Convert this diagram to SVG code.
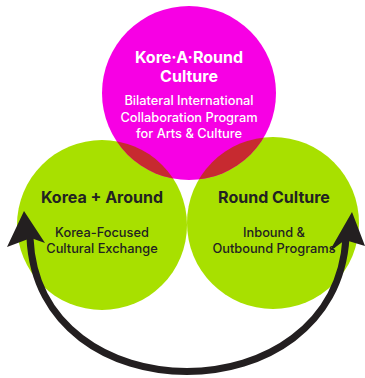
<svg xmlns="http://www.w3.org/2000/svg" width="365" height="378" viewBox="0 0 365 378">
<defs>
<style>
.green{fill:#a8e000}
.mag{fill:#f700e4}
.ov{fill:#c72a30}
.t{font-family:Inter,"Noto Sans",sans-serif;text-anchor:middle}
.h{font-weight:700;font-size:16px}
.s{font-weight:500;font-size:12.8px}
.w{fill:#ffffff}
.d{fill:#222222}
.arc{fill:none;stroke:#231f20;stroke-width:7}
.head{fill:#231f20}
</style>
<clipPath id="cm"><circle cx="189" cy="93" r="87"/></clipPath>
</defs>
<g id="left">
<circle class="green" cx="102" cy="225" r="85"/>
</g>
<g id="right">
<circle class="green" cx="273" cy="223" r="86"/>
</g>
<g id="top">
<circle class="mag" cx="189" cy="93" r="87"/>
<g clip-path="url(#cm)">
<circle class="ov" cx="102" cy="225" r="85"/>
<circle class="ov" cx="273" cy="223" r="86"/>
</g>
<text class="t h w" x="189" y="63" font-size="18">Kore·A·Round</text>
<text class="t h w" x="189" y="82">Culture</text>
<text class="t s w" x="189" y="105">Bilateral International</text>
<text class="t s w" x="189" y="122">Collaboration Program</text>
<text class="t s w" x="189" y="138">for Arts &amp; Culture</text>
</g>
<g id="left-text">
<text class="t h d" x="102" y="203">Korea + Around</text>
<text class="t s d" x="102" y="237">Korea-Focused</text>
<text class="t s d" x="102" y="253">Cultural Exchange</text>
</g>
<g id="right-text">
<text class="t h d" x="274" y="203">Round Culture</text>
<text class="t s d" x="274" y="237">Inbound &amp;</text>
<text class="t s d" x="274" y="253">Outbound Programs</text>
</g>
<g id="connectors">
<path class="arc" d="M30 238 C38 416, 335 416, 346 238"/>
<polygon class="head" points="24,211 45,243 31,238 7,247"/>
<polygon class="head" points="352,212 365,246 345,240 329,252"/>
</g>
</svg>
